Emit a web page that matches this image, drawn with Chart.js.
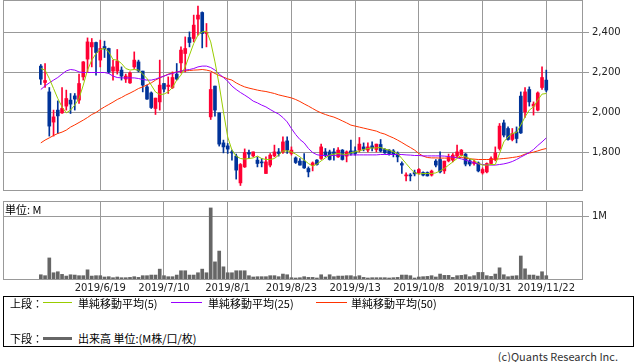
<!DOCTYPE html>
<html>
<head>
<meta charset="utf-8">
<script src="https://cdn.jsdelivr.net/npm/chart.js@4.4.0/dist/chart.umd.min.js"></script>
<style>
html,body{margin:0;padding:0;background:#fff;}
body{width:638px;height:362px;position:relative;overflow:hidden;font-family:"Noto Sans CJK JP","DejaVu Sans",sans-serif;color:#000;}
canvas{position:absolute;left:0;}
#c1{top:0;}
#c2{top:196px;}
.t{position:absolute;white-space:nowrap;font-size:11px;line-height:12px;}
.ln{position:absolute;height:1px;}
#box{position:absolute;left:3px;top:296px;width:631px;height:51px;border:1px solid #000;box-sizing:border-box;}
</style>
</head>
<body>
<canvas id="c1" width="638" height="195"></canvas>
<canvas id="c2" width="638" height="100"></canvas>
<div class="t" style="left:5px;top:203px;">単位: M</div>
<div id="box"></div>
<div class="t" style="left:10px;top:297px;">上段：</div>
<div class="ln" style="left:43px;top:302px;width:29px;background:#99cc00;"></div>
<div class="t" style="left:78px;top:297px;">単純移動平均(5)</div>
<div class="ln" style="left:171px;top:302px;width:31px;background:#9900ff;"></div>
<div class="t" style="left:208px;top:297px;">単純移動平均(25)</div>
<div class="ln" style="left:316px;top:302px;width:31px;background:#ff3300;"></div>
<div class="t" style="left:351px;top:297px;">単純移動平均(50)</div>
<div class="t" style="left:10px;top:332px;">下段：</div>
<div class="ln" style="left:43px;top:337px;width:29px;height:3px;background:#666;"></div>
<div class="t" style="left:78px;top:332px;">出来高 単位:(M株/口/枚)</div>
<div class="t" style="right:20px;top:350px;color:#333;">(c)Quants Research Inc.</div>
<script>
const dates = ['2019/5/30','2019/5/31','2019/6/3','2019/6/4','2019/6/5','2019/6/6','2019/6/7','2019/6/10','2019/6/11','2019/6/12','2019/6/13','2019/6/14','2019/6/17','2019/6/18','2019/6/19','2019/6/20','2019/6/21','2019/6/24','2019/6/25','2019/6/26','2019/6/27','2019/6/28','2019/7/1','2019/7/2','2019/7/3','2019/7/4','2019/7/5','2019/7/8','2019/7/9','2019/7/10','2019/7/11','2019/7/12','2019/7/16','2019/7/17','2019/7/18','2019/7/19','2019/7/22','2019/7/23','2019/7/24','2019/7/25','2019/7/26','2019/7/29','2019/7/30','2019/7/31','2019/8/1','2019/8/2','2019/8/5','2019/8/6','2019/8/7','2019/8/8','2019/8/9','2019/8/13','2019/8/14','2019/8/15','2019/8/16','2019/8/19','2019/8/20','2019/8/21','2019/8/22','2019/8/23','2019/8/26','2019/8/27','2019/8/28','2019/8/29','2019/8/30','2019/9/2','2019/9/3','2019/9/4','2019/9/5','2019/9/6','2019/9/9','2019/9/10','2019/9/11','2019/9/12','2019/9/13','2019/9/17','2019/9/18','2019/9/19','2019/9/20','2019/9/24','2019/9/25','2019/9/26','2019/9/27','2019/9/30','2019/10/1','2019/10/2','2019/10/3','2019/10/4','2019/10/7','2019/10/8','2019/10/9','2019/10/10','2019/10/11','2019/10/15','2019/10/16','2019/10/17','2019/10/18','2019/10/21','2019/10/23','2019/10/24','2019/10/25','2019/10/28','2019/10/29','2019/10/30','2019/10/31','2019/11/1','2019/11/5','2019/11/6','2019/11/7','2019/11/8','2019/11/11','2019/11/12','2019/11/13','2019/11/14','2019/11/15','2019/11/18','2019/11/19','2019/11/20','2019/11/21','2019/11/22'];

const xTickLabels = ['2019/6/19','2019/7/10','2019/8/1','2019/8/23','2019/9/13','2019/10/8','2019/10/31','2019/11/22'];
const priceTicks = [1800, 2000, 2200, 2400];
const volumeTicks = [1];

const open = [2232,2150,2103,1952,2012,1998,2032,2062,2083,2062,2178,2267,2328,2350,2262,2330,2320,2207,2207,2212,2167,2148,2228,2253,2207,2128,2098,2020,2053,2145,2130,2125,2192,2248,2295,2375,2370,2467,2500,2395,1978,2132,1998,1848,1833,1803,1782,1648,1728,1800,1783,1762,1753,1695,1737,1783,1803,1803,1858,1795,1773,1757,1757,1720,1737,1762,1770,1803,1803,1803,1778,1812,1782,1808,1808,1812,1828,1812,1833,1815,1840,1815,1812,1808,1795,1745,1683,1688,1700,1698,1700,1700,1687,1757,1765,1708,1758,1762,1782,1787,1792,1758,1745,1748,1698,1703,1745,1765,1820,1948,1920,1865,1903,2082,2003,2115,2032,2012,2125,2162];
const high = [2240,2245,2125,2012,2058,2125,2112,2095,2095,2192,2255,2373,2370,2352,2362,2357,2322,2262,2315,2228,2192,2203,2303,2262,2207,2137,2103,2072,2262,2145,2178,2203,2245,2328,2378,2403,2487,2532,2503,2445,2198,2132,1998,1862,1845,1812,1792,1745,1818,1812,1803,1778,1770,1778,1795,1837,1820,1878,1878,1828,1778,1770,1795,1728,1753,1765,1842,1820,1812,1820,1825,1815,1808,1862,1828,1875,1848,1848,1853,1842,1865,1820,1815,1815,1803,1753,1698,1695,1712,1720,1703,1703,1712,1765,1803,1757,1792,1795,1837,1815,1795,1765,1762,1753,1723,1748,1778,1828,1945,1962,1928,1920,1928,2103,2125,2128,2053,2103,2228,2212];
const low = [2140,2125,1882,1882,1895,1995,2012,1995,2012,2045,2162,2203,2228,2187,2228,2275,2195,2162,2192,2162,2150,2145,2220,2203,2103,2065,2020,1990,2012,2103,2095,2120,2162,2198,2203,2328,2353,2387,2323,2328,1965,1982,1832,1798,1795,1762,1667,1635,1725,1770,1778,1728,1728,1695,1728,1778,1782,1795,1795,1787,1745,1737,1720,1678,1708,1737,1765,1778,1762,1762,1775,1762,1753,1787,1787,1803,1808,1803,1808,1803,1803,1795,1787,1778,1753,1695,1658,1658,1683,1692,1683,1682,1682,1728,1698,1695,1753,1753,1778,1782,1733,1733,1737,1703,1692,1698,1740,1758,1812,1878,1862,1858,1848,1895,1975,2032,1987,2008,2115,2103];
const close = [2167,2160,1932,1978,1983,2020,2070,2042,2067,2145,2253,2353,2350,2300,2320,2318,2203,2228,2257,2182,2182,2198,2262,2208,2137,2067,2025,2072,2137,2117,2137,2175,2167,2312,2320,2350,2437,2487,2395,2400,2115,2012,1842,1828,1817,1798,1712,1740,1800,1792,1803,1745,1748,1753,1787,1803,1795,1853,1812,1812,1750,1737,1723,1703,1748,1740,1828,1787,1765,1795,1812,1765,1803,1795,1795,1842,1817,1828,1823,1842,1807,1798,1795,1792,1778,1737,1688,1683,1693,1715,1687,1683,1707,1737,1703,1757,1775,1787,1803,1812,1742,1742,1753,1708,1715,1745,1770,1798,1932,1887,1865,1895,1870,1898,2103,2053,2042,2098,2175,2112];

const ma5 = [2220,2212,2170,2120,2070,2028,1998,2012,2037,2070,2137,2212,2262,2295,2315,2320,2303,2265,2262,2245,2220,2212,2215,2212,2192,2170,2137,2103,2090,2092,2103,2125,2162,2187,2228,2287,2345,2387,2403,2407,2353,2253,2137,2003,1878,1812,1782,1770,1767,1770,1773,1782,1770,1765,1765,1770,1787,1808,1808,1803,1792,1778,1762,1745,1732,1742,1758,1773,1787,1792,1795,1792,1790,1798,1803,1808,1815,1820,1823,1823,1825,1817,1812,1803,1795,1770,1745,1720,1698,1692,1695,1695,1695,1698,1708,1720,1737,1753,1770,1787,1778,1770,1762,1745,1737,1737,1740,1740,1795,1853,1878,1895,1900,1937,1978,2012,2028,2062,2092,2095];
const ma25 = [2115,2133,2148,2162,2175,2192,2208,2215,2212,2203,2200,2200,2200,2200,2200,2200,2195,2182,2175,2173,2173,2173,2173,2170,2165,2162,2162,2167,2175,2182,2190,2195,2202,2207,2212,2215,2220,2228,2232,2232,2225,2212,2192,2175,2157,2132,2115,2100,2087,2073,2057,2048,2037,2028,2015,2003,1992,1975,1953,1920,1890,1865,1848,1820,1800,1789,1785,1785,1785,1785,1787,1787,1788,1788,1788,1788,1788,1788,1788,1788,1790,1790,1790,1790,1790,1790,1788,1787,1785,1785,1783,1783,1783,1783,1783,1782,1780,1777,1773,1768,1762,1755,1748,1743,1740,1738,1737,1737,1740,1743,1748,1755,1765,1777,1788,1800,1815,1835,1853,1873];
const ma50 = [1848,1862,1873,1885,1895,1902,1912,1927,1938,1950,1962,1975,1990,2000,2015,2028,2040,2052,2065,2075,2087,2097,2108,2120,2128,2138,2148,2162,2173,2182,2192,2198,2203,2207,2208,2210,2212,2213,2215,2212,2207,2195,2185,2177,2168,2162,2148,2137,2128,2122,2117,2112,2108,2105,2100,2095,2088,2083,2078,2073,2065,2055,2043,2032,2020,2008,1998,1990,1983,1977,1968,1958,1948,1937,1932,1927,1922,1917,1912,1907,1898,1892,1882,1873,1862,1850,1837,1825,1812,1795,1782,1775,1773,1773,1772,1772,1772,1773,1775,1775,1772,1768,1767,1765,1765,1765,1765,1767,1768,1770,1772,1775,1778,1783,1792,1797,1802,1808,1815,1820];
const volume = [0.068,0.053,0.337,0.100,0.116,0.074,0.047,0.068,0.063,0.053,0.053,0.147,0.047,0.053,0.053,0.032,0.037,0.021,0.032,0.021,0.021,0.026,0.037,0.026,0.053,0.053,0.063,0.063,0.158,0.053,0.037,0.037,0.063,0.132,0.132,0.063,0.063,0.100,0.158,0.100,1.137,0.274,0.447,0.195,0.100,0.100,0.132,0.132,0.132,0.053,0.032,0.037,0.037,0.037,0.053,0.053,0.037,0.079,0.068,0.021,0.016,0.021,0.037,0.026,0.026,0.016,0.068,0.032,0.068,0.037,0.047,0.047,0.053,0.053,0.037,0.053,0.026,0.016,0.021,0.021,0.021,0.021,0.016,0.021,0.026,0.063,0.063,0.053,0.016,0.032,0.037,0.042,0.053,0.032,0.079,0.058,0.058,0.026,0.053,0.058,0.068,0.037,0.053,0.105,0.105,0.053,0.042,0.079,0.179,0.068,0.037,0.047,0.053,0.368,0.163,0.063,0.063,0.047,0.116,0.053];

// ---- styling / layout ----
const UP = '#ff0033', DOWN = '#003399', GRID = '#999999';
const X_MIN = -8.9, X_MAX = 127.41;
const tickIdx = xTickLabels.map(l => dates.indexOf(l));
const candleColors = open.map((o, i) => close[i] >= o ? UP : DOWN);
const pts = arr => arr.map((v, i) => ({x: i, y: v}));

const frame = {
  id: 'frame',
  afterDraw(chart) {
    const {ctx, chartArea: a} = chart;
    ctx.save();
    ctx.strokeStyle = GRID; ctx.lineWidth = 1;
    const l = Math.round(a.left) + 0.5, t = Math.round(a.top) + 0.5;
    const r = Math.round(a.right) + 0.5, b = Math.round(a.bottom) + 0.5;
    ctx.strokeRect(l, t, r - l, b - t);
    ctx.restore();
  }
};

const tickFont = {family: 'DejaVu Sans', size: 10};

function xScale(showLabels, h) {
  return {
    type: 'linear', min: X_MIN, max: X_MAX, offset: false,
    afterBuildTicks: s => { s.ticks = tickIdx.map(v => ({value: v})); },
    ticks: {display: showLabels, autoSkip: false, maxRotation: 0, padding: 3, color: '#222', font: tickFont,
            callback: v => dates[v]},
    grid: {color: GRID, drawTicks: false, offset: false},
    border: {display: true, color: GRID},
    afterFit: s => { s.height = h; s.paddingLeft = 0; s.paddingRight = 0; }
  };
}

new Chart(document.getElementById('c1'), {
  type: 'bar',
  data: {
    datasets: [
      {type: 'line', data: pts(ma5), borderColor: '#99cc00', borderWidth: 1, pointRadius: 0, tension: 0, order: 0},
      {type: 'line', data: pts(ma25), borderColor: '#9900ff', borderWidth: 1, pointRadius: 0, tension: 0, order: 0},
      {type: 'line', data: pts(ma50), borderColor: '#ff3300', borderWidth: 1, pointRadius: 0, tension: 0, order: 0},
      {type: 'bar', data: open.map((o, i) => ({x: i, y: [o, close[i]]})), backgroundColor: candleColors,
       barThickness: 3, grouped: false, minBarLength: 1, order: 1},
      {type: 'bar', data: low.map((l, i) => ({x: i, y: [l, high[i]]})), backgroundColor: candleColors,
       barThickness: 1, grouped: false, order: 2}
    ]
  },
  options: {
    responsive: false, animation: false, devicePixelRatio: 1,
    layout: {padding: {left: 3, top: 0, right: 0, bottom: 0}},
    plugins: {legend: {display: false}, tooltip: {enabled: false}},
    scales: {
      x: xScale(false, 5),
      y: {
        type: 'linear', position: 'right', min: 1612.5, max: 2562.5, beginAtZero: false,
        afterBuildTicks: s => { s.ticks = priceTicks.map(v => ({value: v})); },
        ticks: {color: '#222', font: tickFont, padding: 3, callback: v => v.toLocaleString('en-US')},
        grid: {color: GRID, tickLength: 7},
        border: {display: true, color: GRID},
        afterFit: s => { s.width = 56; s.paddingTop = 0; s.paddingBottom = 0; }
      }
    }
  },
  plugins: [frame]
});

new Chart(document.getElementById('c2'), {
  type: 'bar',
  data: {
    datasets: [
      {data: volume.map((v, i) => ({x: i, y: v})), backgroundColor: '#666666', barThickness: 3, grouped: false}
    ]
  },
  options: {
    responsive: false, animation: false, devicePixelRatio: 1,
    layout: {padding: {left: 3, top: 5, right: 0, bottom: 0}},
    plugins: {legend: {display: false}, tooltip: {enabled: false}},
    scales: {
      x: xScale(true, 17),
      y: {
        type: 'linear', position: 'right', min: 0, max: 1.248,
        afterBuildTicks: s => { s.ticks = volumeTicks.map(v => ({value: v})); },
        ticks: {color: '#222', font: tickFont, padding: 3, callback: v => v + 'M'},
        grid: {color: GRID, tickLength: 7},
        border: {display: true, color: GRID},
        afterFit: s => { s.width = 56; s.paddingTop = 0; s.paddingBottom = 0; }
      }
    }
  },
  plugins: [frame]
});
</script>
</body>
</html>
